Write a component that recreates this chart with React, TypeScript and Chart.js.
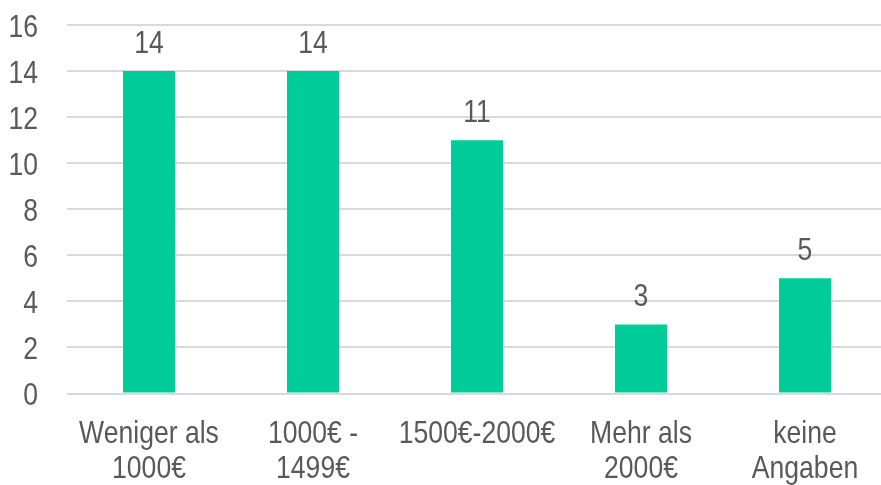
import React, { useEffect, useRef } from "react";
import { Chart, registerables } from "chart.js";

Chart.register(...registerables);

const categories: string[][] = [
  ["Weniger als", "1000€"],
  ["1000€ -", "1499€"],
  ["1500€-2000€"],
  ["Mehr als", "2000€"],
  ["keine", "Angaben"],
];
const counts = [14, 14, 11, 3, 5];
const yTicks = [0, 2, 4, 6, 8, 10, 12, 14, 16];

const FONT = "'Liberation Sans', Arial, sans-serif";
const FONT_SIZE = 32;
const NARROW = 0.83; // horizontal squeeze giving a narrow face
const TEXT = "#595959";
const BAR = "#00CC99";

function narrowText(ctx: CanvasRenderingContext2D, text: string, x: number, y: number, align: CanvasTextAlign) {
  ctx.save();
  ctx.translate(x, y);
  ctx.scale(NARROW, 1);
  ctx.textAlign = align;
  ctx.fillText(text, 0, 0);
  ctx.restore();
}

// axis labels and bar values, drawn in a condensed style
const narrowLabels = {
  id: "narrowLabels",
  afterDatasetsDraw(chart: any) {
    const { ctx, scales, chartArea } = chart;
    const meta = chart.getDatasetMeta(0);
    ctx.save();
    ctx.font = `${FONT_SIZE}px ${FONT}`;
    ctx.fillStyle = TEXT;
    ctx.textBaseline = "alphabetic";

    // y axis tick labels
    yTicks.forEach((v) => {
      const y = scales.y.getPixelForValue(v);
      narrowText(ctx, String(v), chartArea.left - 29, y + 11.5, "right");
    });

    // category labels
    categories.forEach((lines, i) => {
      const x = scales.x.getPixelForValue(i);
      lines.forEach((line, j) => {
        narrowText(ctx, line, x, chartArea.bottom + 49 + j * 35.5, "center");
      });
    });

    // value above each bar
    meta.data.forEach((bar: any, i: number) => {
      narrowText(ctx, String(counts[i]), bar.x, bar.y - 18.5, "center");
    });
    ctx.restore();
  },
};

export default function App() {
  const ref = useRef<HTMLCanvasElement>(null);

  useEffect(() => {
    if (!ref.current) return;
    const chart = new Chart(ref.current, {
      type: "bar",
      data: {
        labels: categories,
        datasets: [
          {
            data: counts,
            backgroundColor: BAR,
            barPercentage: 0.317,
            categoryPercentage: 1,
          },
        ],
      },
      options: {
        responsive: false,
        animation: false,
        layout: { padding: { left: 67, right: 0, top: 25, bottom: 91.5 } },
        plugins: { legend: { display: false }, tooltip: { enabled: false } },
        scales: {
          x: {
            display: false,
          },
          y: {
            min: 0,
            max: 16,
            afterBuildTicks: (axis: any) => {
              axis.ticks = yTicks.map((v) => ({ value: v }));
            },
            grid: { color: "#D9D9D9", lineWidth: 2, drawTicks: false },
            border: { display: false },
            ticks: { display: false },
          },
        },
      },
      plugins: [narrowLabels],
    });
    return () => chart.destroy();
  }, []);

  return (
    <div style={{ position: "fixed", left: 0, top: 0, width: 881, height: 485, overflow: "hidden", background: "#fff" }}>
      <canvas ref={ref} width={887} height={485} style={{ display: "block" }} />
    </div>
  );
}
